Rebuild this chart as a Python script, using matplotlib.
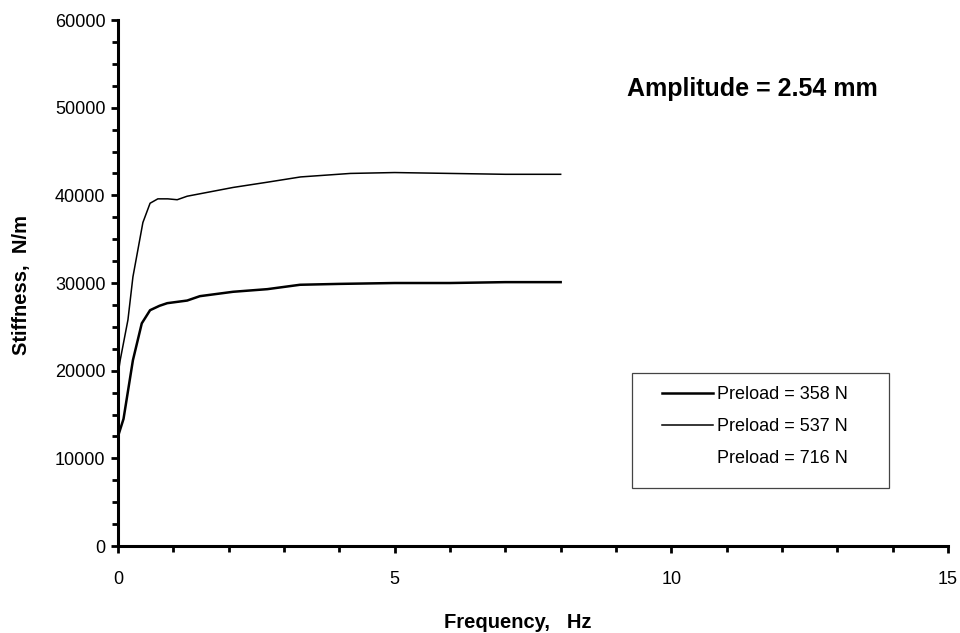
import matplotlib
matplotlib.use("Agg")
import matplotlib.pyplot as plt
from matplotlib.ticker import MultipleLocator
from matplotlib.lines import Line2D
from matplotlib.patches import Rectangle

plt.rcParams['font.family'] = ['Liberation Sans', 'DejaVu Sans']

# Preload = 358 N (thick line)
freq_358 = [0.0, 0.1, 0.27, 0.43, 0.58, 0.75, 0.89, 1.25, 1.48, 2.08, 2.7, 3.29, 4.0, 5.0, 6.0, 7.0, 8.0]
stiff_358 = [12500, 14500, 21200, 25400, 26900, 27400, 27700, 28000, 28500, 29000, 29300, 29800, 29900, 30000, 30000, 30100, 30100]

# Preload = 537 N (thin line)
freq_537 = [0.0, 0.04, 0.18, 0.27, 0.45, 0.58, 0.72, 0.9, 1.07, 1.25, 2.08, 2.7, 3.3, 4.2, 5.0, 6.0, 7.0, 8.0]
stiff_537 = [19500, 21200, 25800, 30700, 36900, 39100, 39600, 39600, 39500, 39900, 40900, 41500, 42100, 42500, 42600, 42500, 42400, 42400]

labels = ['Preload = 358 N', 'Preload = 537 N', 'Preload = 716 N']

fig = plt.figure(figsize=(9.6, 6.33), dpi=100)
ax = fig.add_axes([0.1229, 0.1374, 0.8646, 0.831])

ax.plot(freq_358, stiff_358, color='black', lw=1.8)
ax.plot(freq_537, stiff_537, color='black', lw=1.1)

ax.set_xlim(0, 15)
ax.set_ylim(0, 60000)
ax.xaxis.set_major_locator(MultipleLocator(5))
ax.xaxis.set_minor_locator(MultipleLocator(1))
ax.yaxis.set_major_locator(MultipleLocator(10000))
ax.yaxis.set_minor_locator(MultipleLocator(2500))

for s in ['top', 'right']:
    ax.spines[s].set_visible(False)
for s in ['left', 'bottom']:
    ax.spines[s].set_linewidth(2.2)

ax.tick_params(which='both', direction='out', width=2, colors='black', labelsize=13)
ax.tick_params(which='major', length=5)
ax.tick_params(which='minor', length=4)
ax.tick_params(axis='x', which='major', pad=13)
ax.tick_params(axis='y', which='major', pad=4)

ax.set_xlabel('Frequency,   Hz', fontsize=14.5, fontweight='bold', va='center')
ax.xaxis.set_label_coords(0.482, -0.1445)
ax.set_ylabel('Stiffness,  N/m', fontsize=14.5, fontweight='bold', va='center')
ax.yaxis.set_label_coords(-0.116, 0.496)

ax.text(0.764, 0.868, 'Amplitude = 2.54 mm', transform=ax.transAxes,
        fontsize=18, fontweight='bold', ha='center', va='center')

# legend box
ax.add_patch(Rectangle((0.6193, 0.1103), 0.3096, 0.2186, transform=ax.transAxes,
                       fill=False, edgecolor='#444444', lw=0.9))
handles = [Line2D([], [], color='black', lw=1.8),
           Line2D([], [], color='black', lw=1.1),
           Line2D([], [], color='none', lw=1.1)]
leg = ax.legend(handles, labels, loc='upper left', bbox_to_anchor=(0.6554, 0.304),
                fontsize=13, frameon=False, handlelength=2.8, handletextpad=0.25,
                labelspacing=0.82, borderpad=0, borderaxespad=0)

fig.savefig('out.png', dpi=100)
